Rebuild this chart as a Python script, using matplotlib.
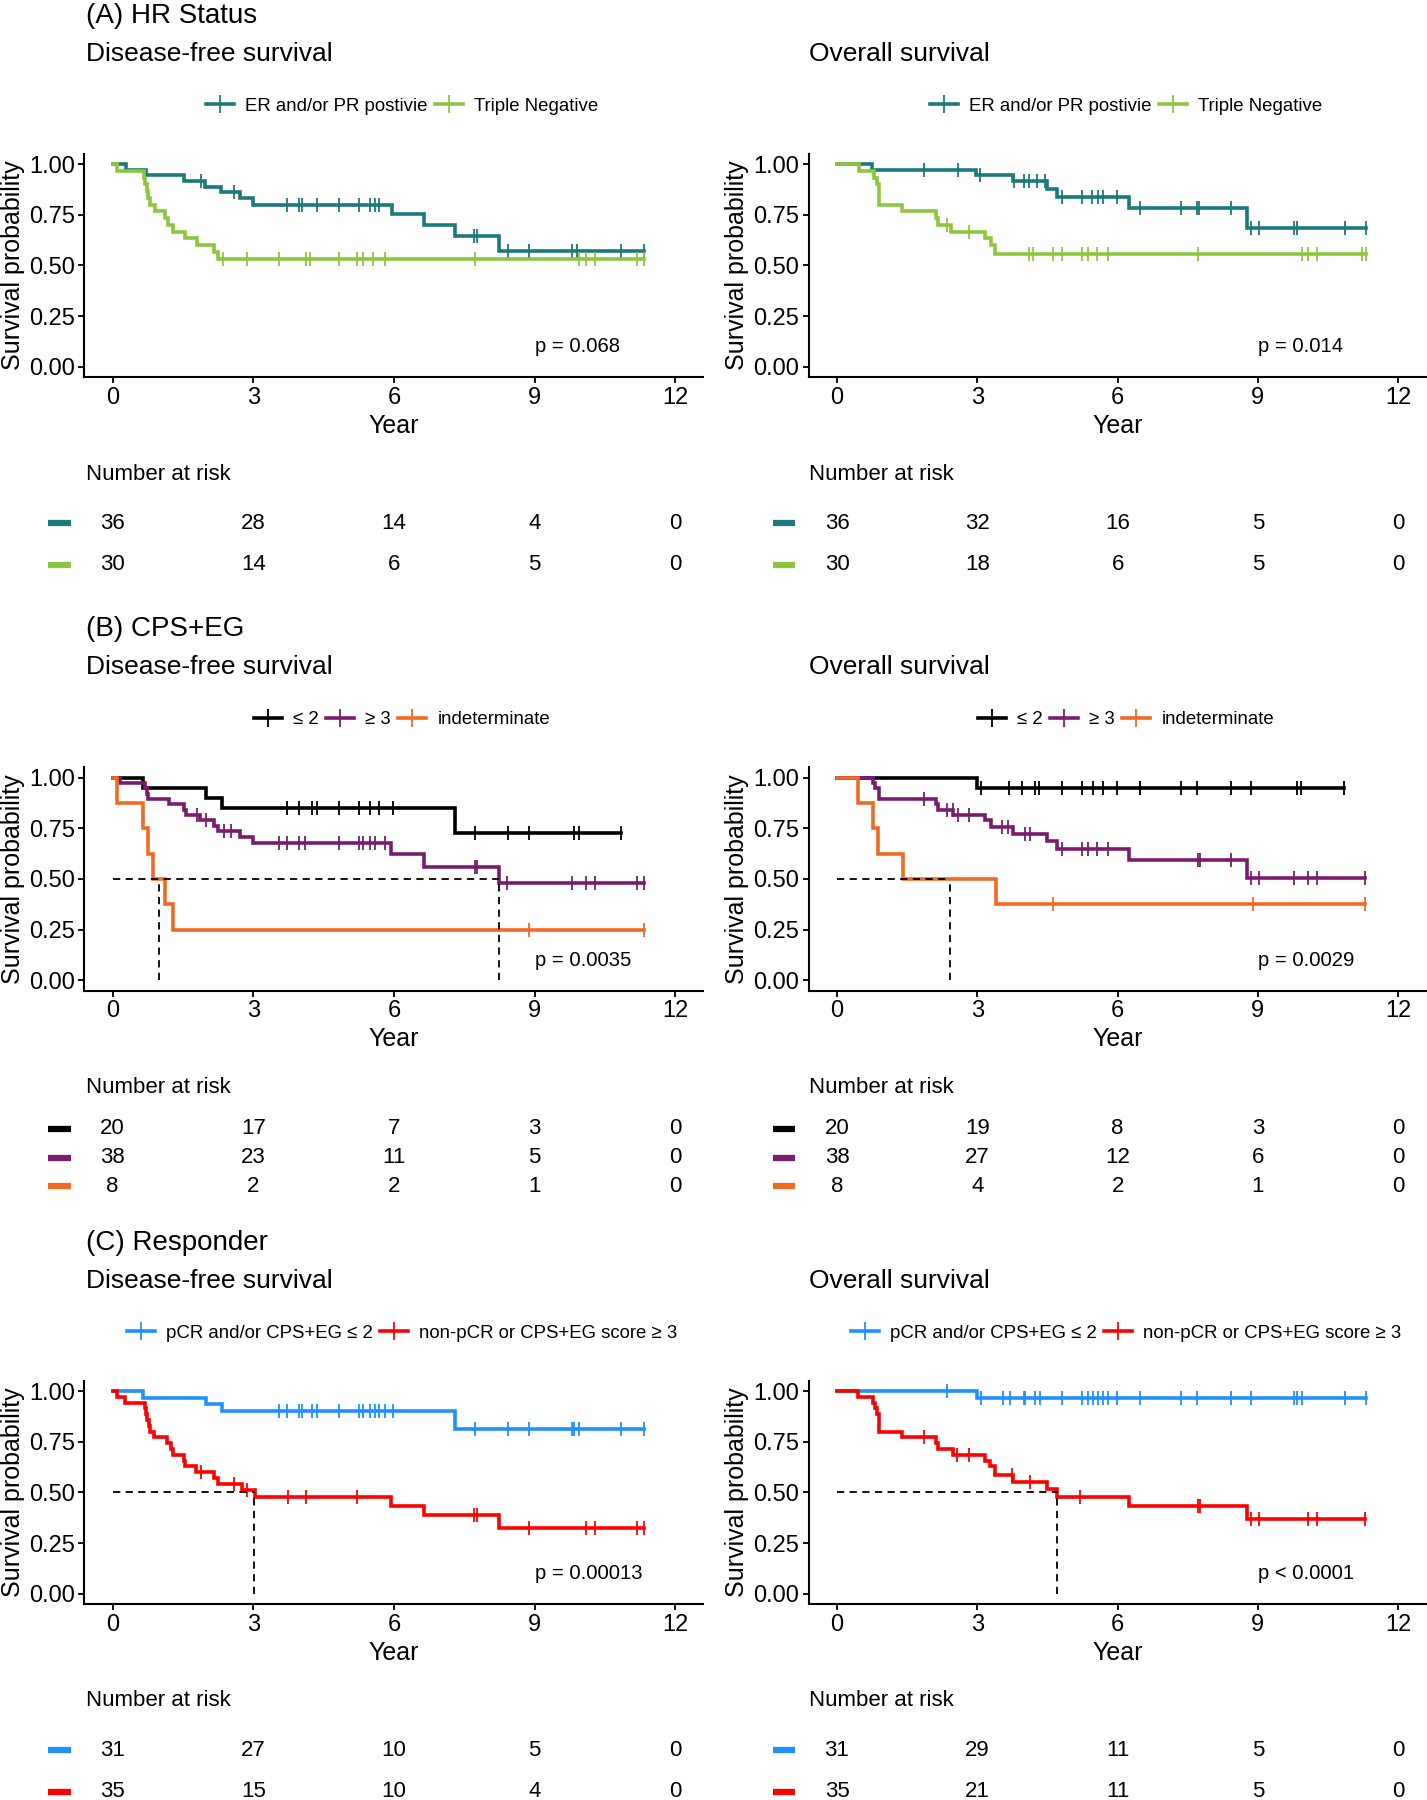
import numpy as np
import matplotlib
matplotlib.use('Agg')
import matplotlib.pyplot as plt
import matplotlib.transforms as mtransforms
from matplotlib.lines import Line2D

plt.rcParams['font.family'] = ['Liberation Sans', 'DejaVu Sans']

# ---------------- data ----------------
risk_times = [0, 3, 6, 9, 12]

# (A) HR status - disease-free survival
erpr_dfs_t = [0, 0.28, 0.71, 1.52, 1.97, 2.32, 2.72, 3.00, 5.95, 6.64, 7.31, 8.25, 11.33]
erpr_dfs_s = [1, 0.972, 0.944, 0.917, 0.889, 0.861, 0.833, 0.80, 0.754, 0.697, 0.643, 0.572, 0.572]
erpr_dfs_c = [1.88, 2.59, 3.72, 3.98, 4.04, 4.36, 4.82, 5.25, 5.49, 5.59, 5.68, 7.71, 7.77, 8.44, 8.89, 9.8, 9.9, 10.85, 11.33]
tn_dfs_t = [0, 0.09, 0.68, 0.70, 0.73, 0.76, 0.80, 0.90, 1.11, 1.18, 1.30, 1.55, 1.81, 2.16, 2.24, 11.33]
tn_dfs_s = [1, 0.967, 0.933, 0.90, 0.867, 0.833, 0.80, 0.767, 0.733, 0.70, 0.667, 0.633, 0.60, 0.567, 0.533, 0.533]
tn_dfs_c = [2.36, 2.86, 3.56, 4.13, 4.22, 4.82, 5.22, 5.35, 5.55, 5.81, 7.72, 9.94, 10.09, 10.28, 11.19, 11.33]

# (A) HR status - overall survival
erpr_os_t = [0, 0.75, 2.97, 3.76, 4.50, 4.71, 6.24, 8.76, 11.32]
erpr_os_s = [1, 0.972, 0.944, 0.914, 0.878, 0.836, 0.785, 0.686, 0.686]
erpr_os_c = [1.86, 2.59, 3.05, 3.79, 4.0, 4.1, 4.28, 4.45, 4.81, 5.24, 5.46, 5.58, 5.68, 5.98, 6.48, 7.36, 7.70, 7.75, 8.43, 8.86, 9.03, 9.78, 9.83, 10.86, 11.32]
tn_os_t = [0, 0.46, 0.80, 0.85, 0.90, 1.38, 2.12, 2.15, 2.44, 3.17, 3.29, 3.38, 11.30]
tn_os_s = [1, 0.967, 0.933, 0.90, 0.80, 0.767, 0.733, 0.70, 0.667, 0.633, 0.60, 0.556, 0.556]
tn_os_c = [2.36, 2.83, 4.11, 4.20, 4.61, 4.81, 5.24, 5.37, 5.56, 5.79, 7.72, 9.94, 10.07, 10.26, 11.23, 11.30]

# (B) CPS+EG - disease-free survival
le2_dfs_t = [0, 0.66, 2.0, 2.33, 7.31, 10.85]
le2_dfs_s = [1, 0.95, 0.90, 0.85, 0.729, 0.729]
le2_dfs_c = [3.72, 3.98, 4.25, 4.36, 4.82, 5.25, 5.49, 5.68, 5.99, 7.72, 8.44, 8.87, 9.83, 9.94, 10.85]
ge3_dfs_t = [0, 0.15, 0.69, 0.73, 0.76, 1.21, 1.52, 1.57, 1.86, 2.16, 2.24, 2.72, 3.0, 5.94, 6.64, 8.25, 11.33]
ge3_dfs_s = [1, 0.974, 0.947, 0.921, 0.895, 0.868, 0.842, 0.816, 0.789, 0.763, 0.737, 0.709, 0.676, 0.622, 0.561, 0.482, 0.482]
ge3_dfs_c = [1.81, 2.0, 2.38, 2.53, 3.56, 3.72, 3.98, 4.11, 4.84, 5.25, 5.35, 5.49, 5.59, 5.80, 7.72, 7.77, 8.41, 9.8, 10.09, 10.28, 11.19, 11.33]
ind_dfs_t = [0, 0.10, 0.66, 0.76, 0.87, 1.11, 1.28, 11.33]
ind_dfs_s = [1, 0.875, 0.75, 0.625, 0.50, 0.375, 0.25, 0.25]
ind_dfs_c = [8.89, 11.33]

# (B) CPS+EG - overall survival
le2_os_t = [0, 2.99, 10.84]
le2_os_s = [1, 0.95, 0.95]
le2_os_c = [3.07, 3.68, 3.96, 4.23, 4.32, 4.81, 5.24, 5.48, 5.68, 5.98, 6.48, 7.36, 7.70, 8.43, 8.86, 9.83, 9.92, 10.84]
ge3_os_t = [0, 0.77, 0.82, 0.90, 2.12, 2.15, 2.49, 3.17, 3.30, 3.76, 4.50, 4.71, 6.24, 8.76, 11.29]
ge3_os_s = [1, 0.974, 0.947, 0.895, 0.868, 0.842, 0.815, 0.789, 0.755, 0.72, 0.687, 0.646, 0.592, 0.507, 0.507]
ge3_os_c = [1.86, 2.35, 2.47, 2.59, 2.83, 3.53, 3.65, 4.03, 4.13, 4.81, 5.24, 5.37, 5.56, 5.79, 7.72, 7.77, 8.43, 8.86, 9.03, 9.78, 10.07, 10.26, 11.29]
ind_os_t = [0, 0.44, 0.77, 0.87, 1.41, 3.41, 11.29]
ind_os_s = [1, 0.875, 0.75, 0.625, 0.50, 0.375, 0.375]
ind_os_c = [4.61, 8.89, 11.29]

# (C) Responder - disease-free survival
pcr_dfs_t = [0, 0.66, 2.0, 2.33, 7.31, 11.33]
pcr_dfs_s = [1, 0.968, 0.935, 0.903, 0.814, 0.814]
pcr_dfs_c = [3.56, 3.72, 3.98, 4.03, 4.25, 4.36, 4.82, 5.25, 5.35, 5.49, 5.59, 5.68, 5.80, 5.99, 7.72, 8.44, 8.87, 9.8, 9.85, 9.94, 10.85, 11.33]
npcr_dfs_t = [0, 0.10, 0.26, 0.69, 0.71, 0.74, 0.77, 0.80, 0.88, 1.17, 1.25, 1.30, 1.52, 1.55, 1.78, 2.16, 2.24, 2.77, 3.03, 5.94, 6.64, 8.25, 11.33]
npcr_dfs_s = [1, 0.971, 0.943, 0.914, 0.886, 0.857, 0.829, 0.80, 0.771, 0.743, 0.714, 0.686, 0.657, 0.629, 0.60, 0.571, 0.543, 0.514, 0.477, 0.434, 0.39, 0.325, 0.325]
npcr_dfs_c = [1.88, 2.60, 2.86, 3.75, 4.13, 5.22, 7.71, 7.77, 8.89, 10.09, 10.28, 11.19, 11.33]

# (C) Responder - overall survival
pcr_os_t = [0, 2.99, 11.32]
pcr_os_s = [1, 0.968, 0.968]
pcr_os_c = [2.35, 3.07, 3.55, 3.70, 3.99, 4.03, 4.23, 4.34, 4.81, 5.24, 5.37, 5.48, 5.58, 5.68, 5.79, 5.98, 6.48, 7.36, 7.70, 8.43, 8.86, 9.78, 9.83, 9.94, 10.86, 11.32]
npcr_os_t = [0, 0.44, 0.77, 0.82, 0.85, 0.90, 1.38, 2.12, 2.15, 2.47, 3.17, 3.28, 3.38, 3.76, 4.50, 4.71, 6.24, 8.76, 11.29]
npcr_os_s = [1, 0.971, 0.943, 0.914, 0.886, 0.80, 0.771, 0.743, 0.714, 0.686, 0.657, 0.629, 0.587, 0.551, 0.518, 0.477, 0.433, 0.37, 0.37]
npcr_os_c = [1.86, 2.57, 2.83, 3.75, 4.13, 5.19, 7.72, 7.77, 8.86, 9.03, 10.07, 10.26, 11.29]

# numbers at risk
hr_dfs_risk = [[36, 28, 14, 4, 0], [30, 14, 6, 5, 0]]
hr_os_risk = [[36, 32, 16, 5, 0], [30, 18, 6, 5, 0]]
cps_dfs_risk = [[20, 17, 7, 3, 0], [38, 23, 11, 5, 0], [8, 2, 2, 1, 0]]
cps_os_risk = [[20, 19, 8, 3, 0], [38, 27, 12, 6, 0], [8, 4, 2, 1, 0]]
resp_dfs_risk = [[31, 27, 10, 5, 0], [35, 15, 10, 4, 0]]
resp_os_risk = [[31, 29, 11, 5, 0], [35, 21, 11, 5, 0]]

hr_labels = ['ER and/or PR postivie', 'Triple Negative']
cps_labels = ['\u2264 2', '\u2265 3', 'indeterminate']
resp_labels = ['pCR and/or CPS+EG \u2264 2', 'non-pCR or CPS+EG score \u2265 3']
hr_colors = ['#1b7a7a', '#8cc63f']
cps_colors = ['#000000', '#7a1c6e', '#f26a22']
resp_colors = ['#1e90ff', '#ff0000']

row_titles = ['(A) HR Status', '(B) CPS+EG', '(C) Responder']
col_titles = ['Disease-free survival', 'Overall survival']

panels = [
    # row, col, curves, medians, p-value, risk, labels, colors
    (0, 0, [(erpr_dfs_t, erpr_dfs_s, erpr_dfs_c), (tn_dfs_t, tn_dfs_s, tn_dfs_c)], [], 'p = 0.068', hr_dfs_risk, hr_labels, hr_colors),
    (0, 1, [(erpr_os_t, erpr_os_s, erpr_os_c), (tn_os_t, tn_os_s, tn_os_c)], [], 'p = 0.014', hr_os_risk, hr_labels, hr_colors),
    (1, 0, [(le2_dfs_t, le2_dfs_s, le2_dfs_c), (ge3_dfs_t, ge3_dfs_s, ge3_dfs_c), (ind_dfs_t, ind_dfs_s, ind_dfs_c)], [1.0, 8.25], 'p = 0.0035', cps_dfs_risk, cps_labels, cps_colors),
    (1, 1, [(le2_os_t, le2_os_s, le2_os_c), (ge3_os_t, ge3_os_s, ge3_os_c), (ind_os_t, ind_os_s, ind_os_c)], [2.41], 'p = 0.0029', cps_os_risk, cps_labels, cps_colors),
    (2, 0, [(pcr_dfs_t, pcr_dfs_s, pcr_dfs_c), (npcr_dfs_t, npcr_dfs_s, npcr_dfs_c)], [3.02], 'p = 0.00013', resp_dfs_risk, resp_labels, resp_colors),
    (2, 1, [(pcr_os_t, pcr_os_s, pcr_os_c), (npcr_os_t, npcr_os_s, npcr_os_c)], [4.71], 'p < 0.0001', resp_os_risk, resp_labels, resp_colors),
]

# ---------------- layout (pixels) ----------------
W, H = 1427, 1800
ROW_H = 613.5
X0 = [112.5, 837.0]        # pixel of t = 0 for each column
PPY = [46.9, 46.77]        # pixels per year
LEG_CX = [402, 1126]
TEXT_X = [86, 809]
YLAB_X = [13, 737]

fig = plt.figure(figsize=(W / 100, H / 100), dpi=100)


def fx(x):
    return x / W


def fy(y):
    return 1 - y / H


for r, title in enumerate(row_titles):
    fig.text(fx(86), fy(16 + r * ROW_H), title, fontsize=20, va='center', ha='left')

for (r, c, curves, medians, pval, risk, labels, colors) in panels:
    dy = r * ROW_H
    left = X0[c] - 0.6 * PPY[c]
    width = 13.2 * PPY[c]
    top, bottom = 153.9 + dy, 377 + dy

    fig.text(fx(TEXT_X[c]), fy(54 + dy), col_titles[c], fontsize=19, va='center', ha='left')

    ax = fig.add_axes([fx(left), fy(bottom), width / W, (bottom - top) / H])
    for (t, s, cens), col in zip(curves, colors):
        ax.step(t, s, where='post', color=col, lw=2.6, solid_joinstyle='miter')
        t_arr = np.array(t)
        s_arr = np.array(s)
        cy = s_arr[np.searchsorted(t_arr, cens, side='right') - 1]
        ax.plot(cens, cy, ls='none', marker='|', ms=10, mew=1.3, color=col)
    if medians:
        ax.plot([0, max(medians)], [0.5, 0.5], color='black', ls=(0, (4, 3)), lw=1.3)
        for m in medians:
            ax.plot([m, m], [0, 0.5], color='black', ls=(0, (4, 3)), lw=1.3)
    ax.text(9, 0.1, pval, fontsize=14.6, va='center', ha='left')

    ax.set_xlim(-0.6, 12.6)
    ax.set_ylim(-0.05, 1.05)
    ax.set_xticks(risk_times)
    ax.set_yticks([0, 0.25, 0.5, 0.75, 1.0])
    ax.set_yticklabels(['0.00', '0.25', '0.50', '0.75', '1.00'])
    ax.tick_params(labelsize=17, length=4, width=1.3, pad=3)
    for sp in ['top', 'right']:
        ax.spines[sp].set_visible(False)
    for sp in ['left', 'bottom']:
        ax.spines[sp].set_linewidth(1.5)

    fig.text(fx(X0[c] + 6 * PPY[c]), fy(426 + dy), 'Year', fontsize=18, ha='center', va='center')
    fig.text(fx(YLAB_X[c]), fy((top + bottom) / 2), 'Survival probability', fontsize=18,
             rotation=90, ha='center', va='center')

    handles = [Line2D([], [], color=col, lw=2.6, marker='+', ms=13, mew=1.3) for col in colors]
    fig.legend(handles, labels, loc='center', bbox_to_anchor=(fx(LEG_CX[c]), fy(106 + dy)),
               ncol=len(labels), frameon=False, fontsize=13.4, handlelength=1.5,
               handletextpad=0.6, columnspacing=0.4, borderaxespad=0)

    # risk table
    fig.text(fx(TEXT_X[c]), fy(474 + dy), 'Number at risk', fontsize=16, va='center', ha='left')
    n = len(risk)
    rax = fig.add_axes([fx(left), fy(590 + dy), width / W, 92 / H])
    rax.set_xlim(-0.6, 12.6)
    rax.set_ylim(n + 0.6, 0.4)
    rax.axis('off')
    trans = mtransforms.blended_transform_factory(rax.transAxes, rax.transData)
    for i, (row, col) in enumerate(zip(risk, colors)):
        for tt, v in zip(risk_times, row):
            rax.text(tt, i + 1, str(v), ha='center', va='center', fontsize=16)
        rax.plot([-0.059, -0.022], [i + 1, i + 1], transform=trans, color=col, lw=4.5,
                 solid_capstyle='butt', clip_on=False)

fig.savefig('out.png', dpi=100)
